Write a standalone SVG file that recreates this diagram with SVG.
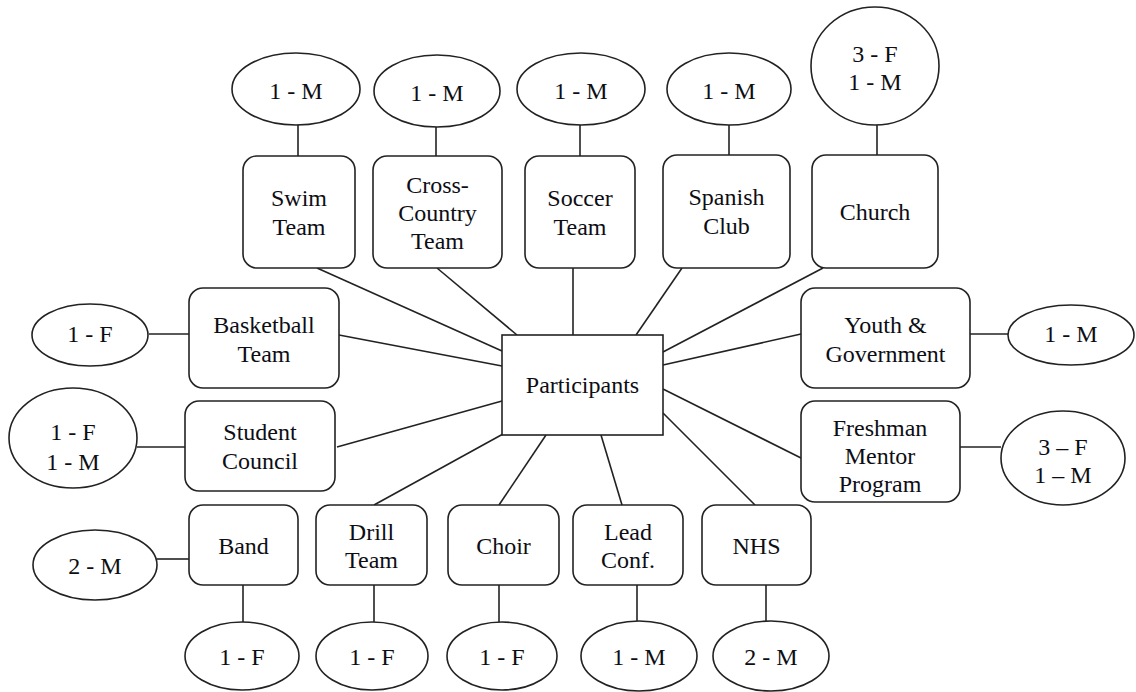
<svg xmlns="http://www.w3.org/2000/svg" width="1136" height="692" viewBox="0 0 1136 692">
<style>
.b{fill:#fff;stroke:#222;stroke-width:1.6}
.e{fill:#fff;stroke:#222;stroke-width:1.6}
.c line{stroke:#222;stroke-width:1.6}
.t text{font-size:24px;fill:#0d0d14;text-anchor:middle}
</style>
<rect width="1136" height="692" fill="#fff"/>
<g class="c" id="connectors">
<line x1="298" y1="125" x2="298" y2="156"/>
<line x1="436" y1="127" x2="436" y2="156"/>
<line x1="580" y1="125" x2="580" y2="156"/>
<line x1="729" y1="125" x2="729" y2="155"/>
<line x1="877" y1="125" x2="877" y2="155"/>
<line x1="149" y1="334" x2="189" y2="334"/>
<line x1="137" y1="447" x2="185" y2="447"/>
<line x1="970" y1="334" x2="1008" y2="334"/>
<line x1="960" y1="447" x2="1001" y2="447"/>
<line x1="157" y1="559" x2="189" y2="559"/>
<line x1="243" y1="585" x2="243" y2="622"/>
<line x1="374" y1="585" x2="374" y2="622"/>
<line x1="499" y1="585" x2="499" y2="622"/>
<line x1="637" y1="585" x2="637" y2="621"/>
<line x1="766" y1="585" x2="766" y2="621"/>
<line x1="317" y1="268" x2="502" y2="351"/>
<line x1="437" y1="268" x2="517" y2="335"/>
<line x1="573" y1="268" x2="573" y2="335"/>
<line x1="682" y1="268" x2="636" y2="335"/>
<line x1="823" y1="268" x2="663" y2="352"/>
<line x1="339" y1="335" x2="502" y2="366"/>
<line x1="663" y1="365" x2="801" y2="334"/>
<line x1="337" y1="447" x2="502" y2="401"/>
<line x1="663" y1="389" x2="801" y2="458"/>
<line x1="374" y1="505" x2="503" y2="434"/>
<line x1="499" y1="505" x2="546" y2="435"/>
<line x1="622" y1="505" x2="601" y2="435"/>
<line x1="755" y1="505" x2="663" y2="413"/>
</g>
<g class="t" font-family="'Liberation Serif', 'Times New Roman', serif">
<g id="participants"><rect class="b" x="502" y="335" width="161" height="100"/><text x="582.5" y="393">Participants</text></g>
<g id="swim"><rect class="b" x="243" y="156" width="112" height="112" rx="14"/><text x="299" y="206">Swim</text><text x="299" y="235">Team</text></g>
<g id="swim-count"><ellipse class="e" cx="296" cy="89" rx="64" ry="36"/><text x="296" y="99">1 - M</text></g>
<g id="cross"><rect class="b" x="373" y="156" width="129" height="112" rx="14"/><text x="437.5" y="193">Cross-</text><text x="437.5" y="221">Country</text><text x="437.5" y="249">Team</text></g>
<g id="cross-count"><ellipse class="e" cx="437" cy="91" rx="63" ry="36"/><text x="437" y="101">1 - M</text></g>
<g id="soccer"><rect class="b" x="525" y="156" width="110" height="112" rx="14"/><text x="580" y="206">Soccer</text><text x="580" y="235">Team</text></g>
<g id="soccer-count"><ellipse class="e" cx="581" cy="89" rx="64" ry="36"/><text x="581" y="99">1 - M</text></g>
<g id="spanish"><rect class="b" x="663" y="155" width="127" height="113" rx="14"/><text x="726.5" y="205">Spanish</text><text x="726.5" y="234">Club</text></g>
<g id="spanish-count"><ellipse class="e" cx="729" cy="89" rx="62" ry="36"/><text x="729" y="99">1 - M</text></g>
<g id="church"><rect class="b" x="812" y="155" width="126" height="113" rx="14"/><text x="875" y="220">Church</text></g>
<g id="church-count"><ellipse class="e" cx="875" cy="66" rx="64" ry="59"/><text x="875" y="62">3 - F</text><text x="875" y="90">1 - M</text></g>
<g id="basketball"><rect class="b" x="189" y="288" width="150" height="100" rx="14"/><text x="264" y="333">Basketball</text><text x="264" y="362">Team</text></g>
<g id="basketball-count"><ellipse class="e" cx="90" cy="335" rx="58" ry="31"/><text x="90" y="342">1 - F</text></g>
<g id="council"><rect class="b" x="185" y="401" width="150" height="90" rx="14"/><text x="260" y="440">Student</text><text x="260" y="469">Council</text></g>
<g id="council-count"><ellipse class="e" cx="73" cy="438" rx="64" ry="50"/><text x="73" y="440">1 - F</text><text x="73" y="470">1 - M</text></g>
<g id="youth"><rect class="b" x="801" y="288" width="169" height="100" rx="14"/><text x="885.5" y="333">Youth &amp;</text><text x="885.5" y="362">Government</text></g>
<g id="youth-count"><ellipse class="e" cx="1071" cy="335" rx="63" ry="30"/><text x="1071" y="342">1 - M</text></g>
<g id="freshman"><rect class="b" x="801" y="401" width="159" height="101" rx="14"/><text x="880" y="436">Freshman</text><text x="880" y="464">Mentor</text><text x="880" y="492">Program</text></g>
<g id="freshman-count"><ellipse class="e" cx="1063" cy="458" rx="62" ry="47"/><text x="1063" y="455">3 – F</text><text x="1063" y="483">1 – M</text></g>
<g id="band"><rect class="b" x="189" y="505" width="109" height="80" rx="14"/><text x="243.5" y="554">Band</text></g>
<g id="band-count-m"><ellipse class="e" cx="95" cy="565" rx="62" ry="35"/><text x="95" y="574">2 - M</text></g>
<g id="band-count-f"><ellipse class="e" cx="242" cy="656" rx="57" ry="34"/><text x="242" y="665">1 - F</text></g>
<g id="drill"><rect class="b" x="316" y="505" width="111" height="80" rx="14"/><text x="371.5" y="540">Drill</text><text x="371.5" y="568">Team</text></g>
<g id="drill-count"><ellipse class="e" cx="372" cy="656" rx="56" ry="34"/><text x="372" y="665">1 - F</text></g>
<g id="choir"><rect class="b" x="448" y="505" width="111" height="80" rx="14"/><text x="503.5" y="554">Choir</text></g>
<g id="choir-count"><ellipse class="e" cx="502" cy="656" rx="55" ry="34"/><text x="502" y="665">1 - F</text></g>
<g id="lead"><rect class="b" x="573" y="505" width="110" height="80" rx="14"/><text x="628" y="540">Lead</text><text x="628" y="568">Conf.</text></g>
<g id="lead-count"><ellipse class="e" cx="639" cy="656" rx="58" ry="35"/><text x="639" y="665">1 - M</text></g>
<g id="nhs"><rect class="b" x="702" y="505" width="109" height="80" rx="14"/><text x="756.5" y="554">NHS</text></g>
<g id="nhs-count"><ellipse class="e" cx="771" cy="656" rx="58" ry="35"/><text x="771" y="665">2 - M</text></g>
</g>
</svg>
